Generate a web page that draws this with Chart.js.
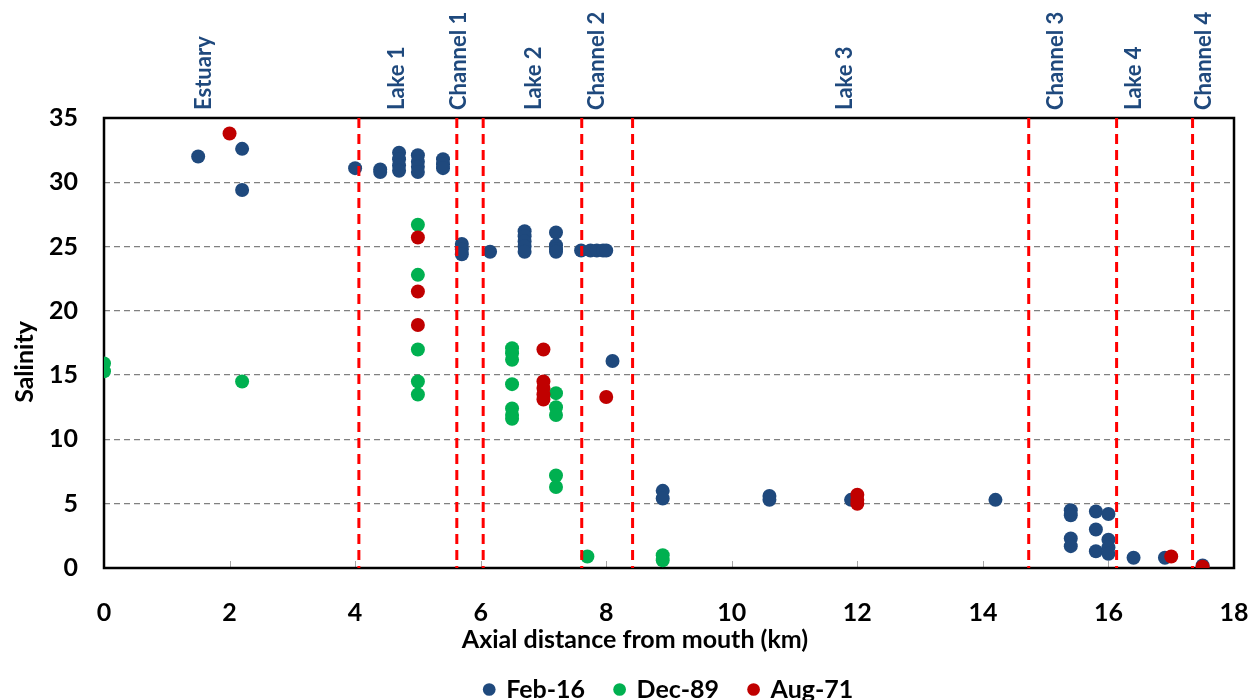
<!DOCTYPE html>
<html>
<head>
<meta charset="utf-8">
<title>Salinity along the lagoon axis</title>
<script src="https://cdn.jsdelivr.net/npm/chart.js@4.4.0/dist/chart.umd.min.js"></script>
<style>
  html, body { margin: 0; padding: 0; background: #fff; overflow: hidden; }
  /* the canvas runs a little past the window so the legend row sits low */
  #frame { width: 1260px; height: 700px; overflow: hidden; position: relative; }
  #wrap { width: 1260px; height: 712px; position: absolute; top: 0; left: 0; }
</style>
</head>
<body>
<div id="frame"><div id="wrap"><canvas id="myChart"></canvas></div></div>
<script>
// Survey samples: axial distance (km) and salinity
const feb16X = [1.5, 2.2, 2.2, 4.0, 4.4, 4.4,
  4.7, 4.7, 4.7, 4.7, 5.0, 5.0, 5.0, 5.0, 5.4, 5.4, 5.4,
  5.7, 5.7, 5.7, 6.15, 6.7, 6.7, 6.7, 6.7, 6.7, 7.2, 7.2, 7.2, 7.2,
  7.6, 7.75, 7.85, 7.95, 8.0, 8.1, 8.9, 8.9, 10.6, 10.6, 11.9, 14.2,
  15.4, 15.4, 15.4, 15.4, 15.8, 15.8, 15.8, 16.0, 16.0, 16.0, 16.0,
  16.4, 16.9, 17.5];
const feb16Y = [32.0, 32.6, 29.4, 31.1, 31.0, 30.8,
  32.3, 31.8, 31.3, 30.9, 32.1, 31.6, 31.2, 30.8, 31.8, 31.4, 31.1,
  25.2, 24.8, 24.4, 24.6, 26.2, 25.8, 25.4, 25.0, 24.6, 26.1, 25.1, 24.8, 24.6,
  24.7, 24.7, 24.7, 24.7, 24.7, 16.1, 6.0, 5.4, 5.6, 5.3, 5.3, 5.3,
  4.5, 4.1, 2.3, 1.7, 4.4, 3.0, 1.3, 4.2, 2.2, 1.6, 1.1,
  0.8, 0.8, 0.2];

const dec89X = [0, 0, 2.2, 5.0, 5.0, 5.0, 5.0, 5.0,
  6.5, 6.5, 6.5, 6.5, 6.5, 6.5, 6.5, 7.2, 7.2, 7.2, 7.2, 7.2,
  7.7, 8.9, 8.9];
const dec89Y = [15.9, 15.3, 14.5, 26.7, 22.8, 17.0, 14.5, 13.5,
  17.1, 16.7, 16.2, 14.3, 12.4, 11.9, 11.6, 13.6, 12.5, 11.9, 7.2, 6.3,
  0.9, 1.0, 0.6];

const aug71X = [2.0, 5.0, 5.0, 5.0, 7.0, 7.0, 7.0, 7.0, 7.0,
  8.0, 12.0, 12.0, 12.0, 17.0, 17.5];
const aug71Y = [33.8, 25.7, 21.5, 18.9, 17.0, 14.5, 14.0, 13.5, 13.1,
  13.3, 5.7, 5.3, 5.0, 0.9, 0.1];

// Limits between water bodies (km) and where each name sits
const boundaries = [4.06, 5.62, 6.04, 7.61, 8.42, 14.73, 16.13, 17.34];
const regionNames = ['Estuary', 'Lake 1', 'Channel 1', 'Lake 2', 'Channel 2',
  'Lake 3', 'Channel 3', 'Lake 4', 'Channel 4'];
const regionAt = [1.59, 4.66, 5.66, 6.85, 7.85, 11.8, 15.16, 16.4, 17.52];

const toPoints = (xs, ys) => xs.map((x, i) => ({x: x, y: ys[i]}));

Chart.defaults.font.family = 'Lato';

const boldFont = {family: 'Lato', weight: 'bold', size: 25};

// frame, inner tick marks, region limits and names, axis titles
const decorations = {
  id: 'decorations',
  beforeDatasetsDraw(chart) {
    const {ctx, chartArea: a, scales: {x}} = chart;
    ctx.save();
    ctx.strokeStyle = '#A6A6A6';
    ctx.lineWidth = 1;
    x.ticks.forEach(t => {
      const px = Math.round(x.getPixelForValue(t.value)) + 0.5;
      ctx.beginPath();
      ctx.moveTo(px, a.bottom);
      ctx.lineTo(px, a.bottom - 7);
      ctx.stroke();
    });
    ctx.strokeStyle = '#000';
    ctx.lineWidth = 2.5;
    ctx.strokeRect(a.left, a.top, a.right - a.left, a.bottom - a.top);
    ctx.restore();
  },
  afterDatasetsDraw(chart) {
    const {ctx, chartArea: a, scales: {x}} = chart;
    ctx.save();
    ctx.strokeStyle = '#FF0000';
    ctx.lineWidth = 3;
    ctx.setLineDash([10, 6]);
    boundaries.forEach(b => {
      const px = x.getPixelForValue(b);
      ctx.beginPath();
      ctx.moveTo(px, a.top);
      ctx.lineTo(px, a.bottom);
      ctx.stroke();
    });
    ctx.setLineDash([]);

    ctx.fillStyle = '#1F497D';
    ctx.font = 'bold 22px Lato';
    ctx.textAlign = 'left';
    ctx.textBaseline = 'middle';
    regionNames.forEach((name, i) => {
      ctx.save();
      ctx.translate(x.getPixelForValue(regionAt[i]), 110);
      ctx.rotate(-Math.PI / 2);
      ctx.fillText(name, 0, 0);
      ctx.restore();
    });

    ctx.fillStyle = '#000';
    ctx.font = 'bold 25px Lato';
    ctx.textAlign = 'center';
    ctx.fillText('Axial distance from mouth (km)', 635, 640);
    ctx.save();
    ctx.translate(25, 362);
    ctx.rotate(-Math.PI / 2);
    ctx.fillText('Salinity', 0, 0);
    ctx.restore();
    ctx.restore();
  }
};

const ctx = document.getElementById('myChart').getContext('2d');

new Chart(ctx, {
  type: 'scatter',
  data: {
    datasets: [
      {label: 'Feb-16', data: toPoints(feb16X, feb16Y), backgroundColor: '#1F497D', order: 3},
      {label: 'Dec-89', data: toPoints(dec89X, dec89Y), backgroundColor: '#00B050', order: 2},
      {label: 'Aug-71', data: toPoints(aug71X, aug71Y), backgroundColor: '#C00000', order: 1}
    ]
  },
  options: {
    responsive: true,
    maintainAspectRatio: false,
    animation: false,
    elements: {
      point: {radius: 7, borderWidth: 0, hoverRadius: 7}
    },
    layout: {
      padding: {top: 118, right: 26, left: 0, bottom: 0}
    },
    scales: {
      x: {
        type: 'linear',
        min: 0,
        max: 18,
        grid: {display: false},
        border: {display: false},
        ticks: {
          stepSize: 2,
          padding: 0,
          color: '#000',
          font: {family: 'Lato', weight: 'bold', size: 25, lineHeight: 2.96}
        },
        afterFit: s => { s.height = 79; }
      },
      y: {
        min: 0,
        max: 35,
        grid: {color: '#808080', lineWidth: 1.3, drawTicks: false},
        border: {display: false, dash: [6, 4]},
        ticks: {stepSize: 5, padding: 26, color: '#000', font: boldFont},
        afterFit: s => { s.width = 104; }
      }
    },
    plugins: {
      tooltip: {enabled: false},
      legend: {
        position: 'bottom',
        fullSize: false,
        labels: {
          usePointStyle: true,
          pointStyle: 'circle',
          boxWidth: 9,
          boxHeight: 9,
          padding: 30,
          color: '#000',
          font: boldFont,
          sort: (a, b) => a.datasetIndex - b.datasetIndex
        }
      }
    }
  },
  plugins: [decorations]
});
</script>
</body>
</html>
